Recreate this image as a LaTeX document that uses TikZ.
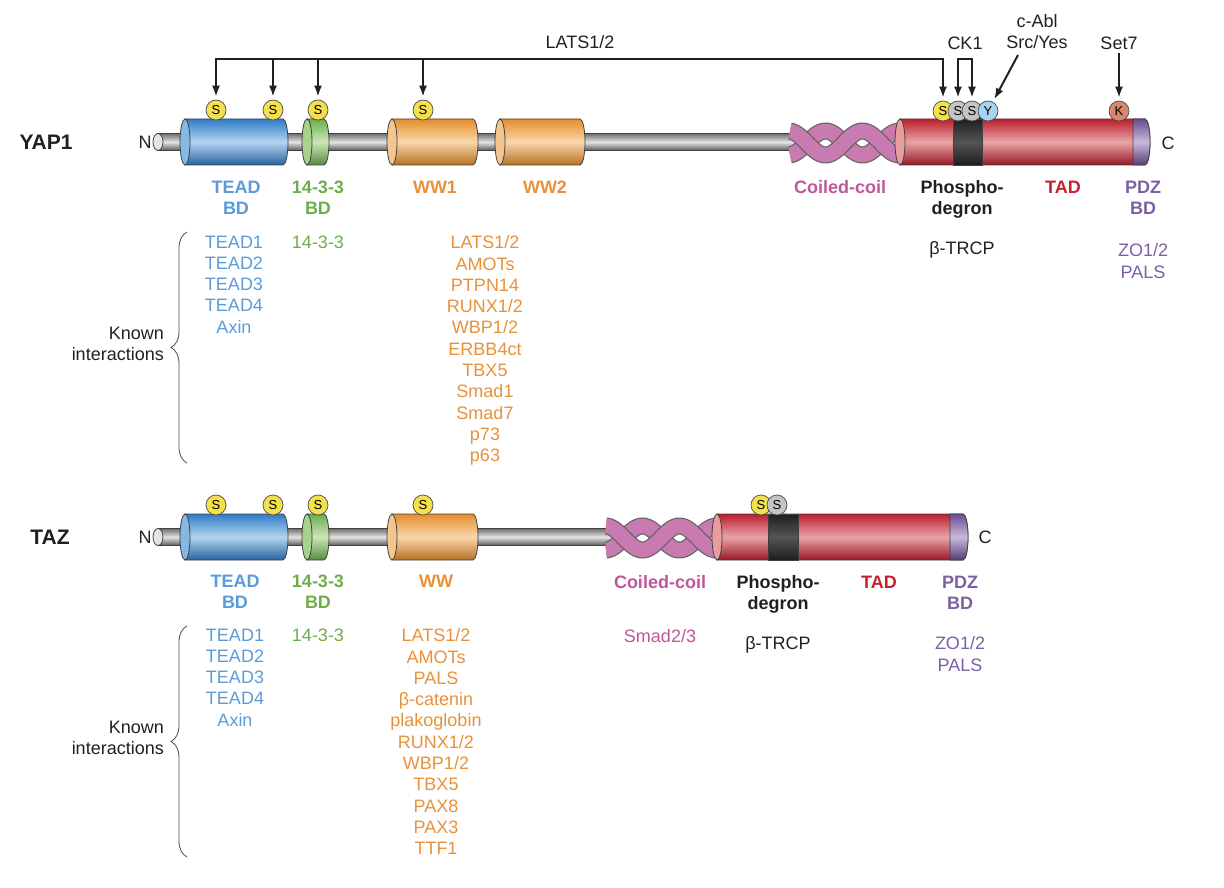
\documentclass[tikz,border=0pt]{standalone}
\usepackage{fontspec}
\setmainfont{Liberation Sans}
\usetikzlibrary{calc,arrows.meta,positioning,decorations.pathreplacing}

\definecolor{teadC}{HTML}{5B9BD8}
\definecolor{teadD}{HTML}{2F7DC6}
\definecolor{teadL}{HTML}{B4D3F0}
\definecolor{teadF}{HTML}{86B8E6}
\definecolor{grnC}{HTML}{6DAE4B}
\definecolor{grnD}{HTML}{6AAE4C}
\definecolor{grnL}{HTML}{CDE6B8}
\definecolor{grnF}{HTML}{A6D28C}
\definecolor{wwC}{HTML}{E8913A}
\definecolor{wwD}{HTML}{E58D2C}
\definecolor{wwL}{HTML}{F9D7AC}
\definecolor{wwF}{HTML}{F5C58E}
\definecolor{coilC}{HTML}{C0569B}
\definecolor{coilF}{HTML}{C97AB0}
\definecolor{tadC}{HTML}{C8202F}
\definecolor{tadD}{HTML}{BC1E2C}
\definecolor{tadL}{HTML}{E8A4A7}
\definecolor{tadF}{HTML}{E99C9C}
\definecolor{pdzC}{HTML}{7C60A4}
\definecolor{pdzD}{HTML}{6B4B92}
\definecolor{pdzL}{HTML}{CBB9DC}
\definecolor{rodD}{HTML}{6E6E6E}
\definecolor{rodL}{HTML}{E4E4E4}
\definecolor{degD}{HTML}{1E1E1E}
\definecolor{degL}{HTML}{555555}
\definecolor{serY}{HTML}{F4E04A}
\definecolor{serG}{HTML}{C4C4C4}
\definecolor{tyrB}{HTML}{A6D3F0}
\definecolor{lysR}{HTML}{D9866C}
\definecolor{ink}{HTML}{231F20}

% x1, x2, yc, half height, dark, light
\newcommand{\cylbody}[6]{%
  \shade[top color=#5, bottom color=#5!80!black, middle color=#6, draw=black!75, line width=0.8pt]
    (#1,#3+#4) -- (#2,#3+#4) arc[start angle=90,end angle=-90,x radius=5,y radius=#4] -- (#1,#3-#4) -- cycle;}
% x, yc, half height, colour
\newcommand{\cylface}[4]{%
  \filldraw[fill=#4, draw=black!75, line width=0.8pt] (#1,#2) ellipse[x radius=5, y radius=#3];}
% x1, x2, yc, half height, dark, light
\newcommand{\cylband}[6]{%
  \shade[top color=#5, bottom color=#5, middle color=#6, draw=black!75, line width=0.8pt]
    (#1,#3+#4) rectangle (#2,#3-#4);}
% x1, x2, yc, first crossing
\newcommand{\coiled}[4]{%
  \draw[line width=17pt, draw=black!60] plot[domain=#1:#2, samples=70, smooth] (\x,{#3+12*sin(4.865*(\x-#4))});
  \draw[line width=14.5pt, draw=coilF] plot[domain=#1:#2, samples=70, smooth] (\x,{#3+12*sin(4.865*(\x-#4))});
  \draw[line width=17pt, draw=black!60] plot[domain=#1:#2, samples=70, smooth] (\x,{#3-12*sin(4.865*(\x-#4))});
  \draw[line width=14.5pt, draw=coilF] plot[domain=#1:#2, samples=70, smooth] (\x,{#3-12*sin(4.865*(\x-#4))});}

\begin{document}
\begin{tikzpicture}[x=1pt,y=1pt,>={Latex[length=11pt,width=8pt]},
    lab/.style={font=\fontsize{18}{21}\selectfont\bfseries, align=center, inner sep=0pt, anchor=north},
    lst/.style={font=\fontsize{18}{21.3}\selectfont, align=center, inner sep=0pt, anchor=north},
    txt/.style={font=\fontsize{18}{21}\selectfont, text=ink, inner sep=0pt, align=center},
    prot/.style={font=\fontsize{21}{21}\selectfont\bfseries, text=ink, inner sep=0pt},
    res/.style={circle, draw=black!70, line width=0.7pt, inner sep=0pt, minimum size=20pt, font=\fontsize{13}{13}\selectfont},
    kin/.style={->, line width=2pt, draw=ink, shorten >=3pt},
    brc/.style={decorate, decoration={brace, amplitude=16pt}, line width=0.8pt, draw=black!70}]
  \useasboundingbox (0,0) rectangle (1224,-888);

  % ---------------- YAP1 ----------------
  \node[prot] (yap) at (46,-142) {YAP1};
  \node[txt] (yapN) at (145,-142) {N};
  \node[txt] (yapC) at (1168,-143) {C};

  \cylbody{158}{795}{-142}{8.5}{rodD}{rodL}
  \cylface{158}{-142}{8.5}{rodL}
  \coiled{790}{903}{-143}{807}
  \cylbody{185}{283}{-142}{23}{teadD}{teadL}
  \cylface{185}{-142}{23}{teadF}
  \cylbody{307}{324}{-142}{23}{grnD}{grnL}
  \cylface{307}{-142}{23}{grnF}
  \cylbody{392}{473}{-142}{23}{wwD}{wwL}
  \cylface{392}{-142}{23}{wwF}
  \cylbody{500}{580}{-142}{23}{wwD}{wwL}
  \cylface{500}{-142}{23}{wwF}
  \cylbody{900}{1145}{-142}{23}{tadD}{tadL}
  \cylband{953}{982}{-142}{23}{degD}{degL}
  \cylbody{1133}{1145}{-142}{23}{pdzD}{pdzL}
  \cylface{900}{-142}{23}{tadF}

  \node[res, fill=serY] (ys1) at (216,-110) {S};
  \node[res, fill=serY] (ys2) at (273,-110) {S};
  \node[res, fill=serY] (ys3) at (318,-110) {S};
  \node[res, fill=serY] (ys4) at (423,-110) {S};
  \node[res, fill=serY] (ys5) at (943,-111) {S};
  \node[res, fill=serG] (ys6) at (958,-111) {S};
  \node[res, fill=serG] (ys7) at (972,-111) {S};
  \node[res, fill=tyrB] (yy1) at (988,-111) {Y};
  \node[res, fill=lysR] (yk1) at (1119,-111) {K};

  % kinases
  \coordinate (latsbar) at (580,-59);
  \node[txt] (lats) at (580,-42) {LATS1/2};
  \node[txt] (ck) at (965,-43) {CK1};
  \node[txt] (abl) at (1037,-32) {c-Abl\\Src/Yes};
  \node[txt] (set) at (1119,-43) {Set7};
  \coordinate (ablfoot) at (1018,-55);
  \draw[line width=2pt, draw=ink, line cap=rect] (ys1 |- latsbar) -- (ys5 |- latsbar);
  \foreach \s in {ys1,ys2,ys3,ys4,ys5}
    \draw[kin] (\s |- latsbar) -- (\s);
  \draw[kin, <->, shorten <=3pt] (ys6) -- (ys6 |- latsbar) -- (ys7 |- latsbar) -- (ys7);
  \draw[kin] (ablfoot) -- (yy1);
  \draw[kin, shorten <=3pt] (set) -- (yk1);

  % domain names
  \node[lab, text=teadC] (yteadn) at (236,-180.5) {TEAD\\BD};
  \node[lab, text=grnC] (y1433n) at (318,-180.5) {14-3-3\\BD};
  \node[lab, text=wwC] (yww1n) at (435,-180.5) {WW1};
  \node[lab, text=wwC] (yww2n) at (545,-180.5) {WW2};
  \node[lab, text=coilC] (ycoiln) at (840,-180.5) {Coiled-coil};
  \node[lab, text=ink] (yphosn) at (962,-180.5) {Phospho-\\degron};
  \node[lab, text=tadC] (ytadn) at (1063,-180.5) {TAD};
  \node[lab, text=pdzC] (ypdzn) at (1143,-180.5) {PDZ\\BD};

  % known interactions
  \node[txt, anchor=east, align=right] (yknown) at (164,-344) {Known\\interactions};
  \draw[brc] (187,-463) -- (187,-232);
  \node[lst, text=teadC] (yteadl) at (234,-235.5) {TEAD1\\TEAD2\\TEAD3\\TEAD4\\Axin};
  \node[lst, text=grnC] (y1433l) at (318,-235.5) {14-3-3};
  \node[lst, text=wwC] (ywwl) at (485,-235.5) {LATS1/2\\AMOTs\\PTPN14\\RUNX1/2\\WBP1/2\\ERBB4ct\\TBX5\\Smad1\\Smad7\\p73\\p63};
  \node[lst, text=ink] (yphosl) at (962,-241.5) {β-TRCP};
  \node[lst, text=pdzC] (ypdzl) at (1143,-243.5) {ZO1/2\\PALS};

  % ---------------- TAZ ----------------
  \node[prot] (taz) at (50,-537) {TAZ};
  \node[txt] (tazN) at (145,-537) {N};
  \node[txt] (tazC) at (985,-537) {C};

  \cylbody{158}{612}{-537}{8.5}{rodD}{rodL}
  \cylface{158}{-537}{8.5}{rodL}
  \coiled{606}{720}{-538}{624}
  \cylbody{185}{283}{-537}{23}{teadD}{teadL}
  \cylface{185}{-537}{23}{teadF}
  \cylbody{307}{324}{-537}{23}{grnD}{grnL}
  \cylface{307}{-537}{23}{grnF}
  \cylbody{392}{473}{-537}{23}{wwD}{wwL}
  \cylface{392}{-537}{23}{wwF}
  \cylbody{717}{963}{-537}{23}{tadD}{tadL}
  \cylband{768}{798}{-537}{23}{degD}{degL}
  \cylbody{950}{963}{-537}{23}{pdzD}{pdzL}
  \cylface{717}{-537}{23}{tadF}

  \node[res, fill=serY] (ts1) at (216,-505) {S};
  \node[res, fill=serY] (ts2) at (273,-505) {S};
  \node[res, fill=serY] (ts3) at (318,-505) {S};
  \node[res, fill=serY] (ts4) at (423,-505) {S};
  \node[res, fill=serY] (ts5) at (761,-505) {S};
  \node[res, fill=serG] (ts6) at (777,-505) {S};

  \node[lab, text=teadC] (tteadn) at (235,-574.5) {TEAD\\BD};
  \node[lab, text=grnC] (t1433n) at (318,-574.5) {14-3-3\\BD};
  \node[lab, text=wwC] (twwn) at (436,-574.5) {WW};
  \node[lab, text=coilC] (tcoiln) at (660,-575.5) {Coiled-coil};
  \node[lab, text=ink] (tphosn) at (778,-575.5) {Phospho-\\degron};
  \node[lab, text=tadC] (ttadn) at (879,-575.5) {TAD};
  \node[lab, text=pdzC] (tpdzn) at (960,-575.5) {PDZ\\BD};

  \node[txt, anchor=east, align=right] (tknown) at (164,-738) {Known\\interactions};
  \draw[brc] (187,-857) -- (187,-626);
  \node[lst, text=teadC] (tteadl) at (235,-628.5) {TEAD1\\TEAD2\\TEAD3\\TEAD4\\Axin};
  \node[lst, text=grnC] (t1433l) at (318,-628.5) {14-3-3};
  \node[lst, text=wwC] (twwl) at (436,-628.5) {LATS1/2\\AMOTs\\PALS\\β-catenin\\plakoglobin\\RUNX1/2\\WBP1/2\\TBX5\\PAX8\\PAX3\\TTF1};
  \node[lst, text=coilC] (tcoill) at (660,-629.5) {Smad2/3};
  \node[lst, text=ink] (tphosl) at (778,-636.5) {β-TRCP};
  \node[lst, text=pdzC] (tpdzl) at (960,-636.5) {ZO1/2\\PALS};
\end{tikzpicture}
\end{document}
